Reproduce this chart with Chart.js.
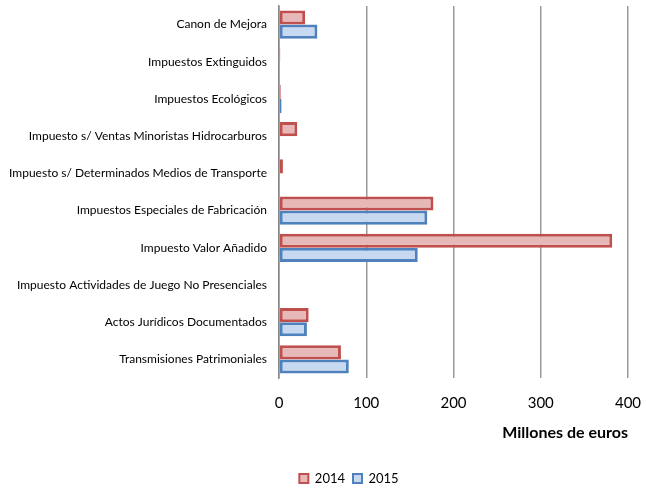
<!DOCTYPE html>
<html>
<head>
<meta charset="utf-8">
<script src="https://cdn.jsdelivr.net/npm/chart.js@4"></script>
<style>
html,body{margin:0;padding:0;background:#fff;}
#wrap{width:646px;height:492px;}
</style>
</head>
<body>
<div id="wrap"><canvas id="c" width="646" height="492"></canvas></div>
<script>
const categories = [
  "Canon de Mejora",
  "Impuestos Extinguidos",
  "Impuestos Ecológicos",
  "Impuesto s/ Ventas Minoristas Hidrocarburos",
  "Impuesto s/ Determinados Medios de Transporte",
  "Impuestos Especiales de Fabricación",
  "Impuesto Valor Añadido",
  "Impuesto Actividades de Juego No Presenciales",
  "Actos Jurídicos Documentados",
  "Transmisiones Patrimoniales"
];
const values2014 = [30, 1.5, 2, 21, 4.5, 177, 382, 0, 34, 71];
const values2015 = [44, 0, 3, 0, 0, 170, 159, 0, 32, 80];
const xTicks = [0, 100, 200, 300, 400];
const seriesNames = ["2014", "2015"];
const axisTitle = "Millones de euros";

const FONT = "Lato, 'Open Sans', sans-serif";

const legendShift = {
  id: 'legendShift',
  afterLayout(chart) { if (chart.legend) { chart.legend.left += 66; } }
};

new Chart(document.getElementById('c'), {
  type: 'bar',
  data: {
    labels: categories,
    datasets: [
      {label: seriesNames[0], data: values2014, backgroundColor: '#E6B9B8', borderColor: '#C0504D', borderWidth: 3, borderSkipped: false},
      {label: seriesNames[1], data: values2015, backgroundColor: '#C6D9F1', borderColor: '#4F81BD', borderWidth: 3, borderSkipped: false}
    ]
  },
  plugins: [legendShift],
  options: {
    indexAxis: 'y',
    responsive: false,
    animation: false,
    devicePixelRatio: 1,
    layout: {padding: {left: 4, right: 18, top: 6, bottom: -3}},
    datasets: {bar: {categoryPercentage: 0.76, barPercentage: 1.0}},
    scales: {
      x: {
        min: 0, max: 400,
        afterBuildTicks: (s) => { s.ticks = xTicks.map(v => ({value: v})); },
        afterFit: (s) => { s.height = 86; s.paddingLeft = 0; s.paddingRight = 0; },
        grid: {color: '#9a9a9a', lineWidth: 1.5, drawTicks: false},
        border: {display: false},
        ticks: {color: '#000', font: {family: FONT, size: 15}, padding: 16},
        title: {display: true, text: axisTitle, align: 'end', color: '#000', font: {family: FONT, size: 16, weight: 'bold'}, padding: {top: 0, bottom: 22}}
      },
      y: {
        grid: {display: false, drawTicks: false},
        border: {display: true, color: '#868686', width: 1.5},
        ticks: {color: '#000', font: {family: FONT, size: 12}, padding: 12, autoSkip: false},
        afterFit: (s) => { s.width = 275; s.paddingTop = 0; s.paddingBottom = 0; }
      }
    },
    plugins: {
      legend: {
        position: 'bottom',
        labels: {
          boxWidth: 9, boxHeight: 9, padding: 8, color: '#000', font: {family: FONT, size: 13},
          generateLabels: (chart) => Chart.defaults.plugins.legend.labels.generateLabels(chart).map(l => Object.assign(l, {lineWidth: 2}))
        }
      },
      tooltip: {enabled: false}
    }
  }
});
</script>
</body>
</html>
